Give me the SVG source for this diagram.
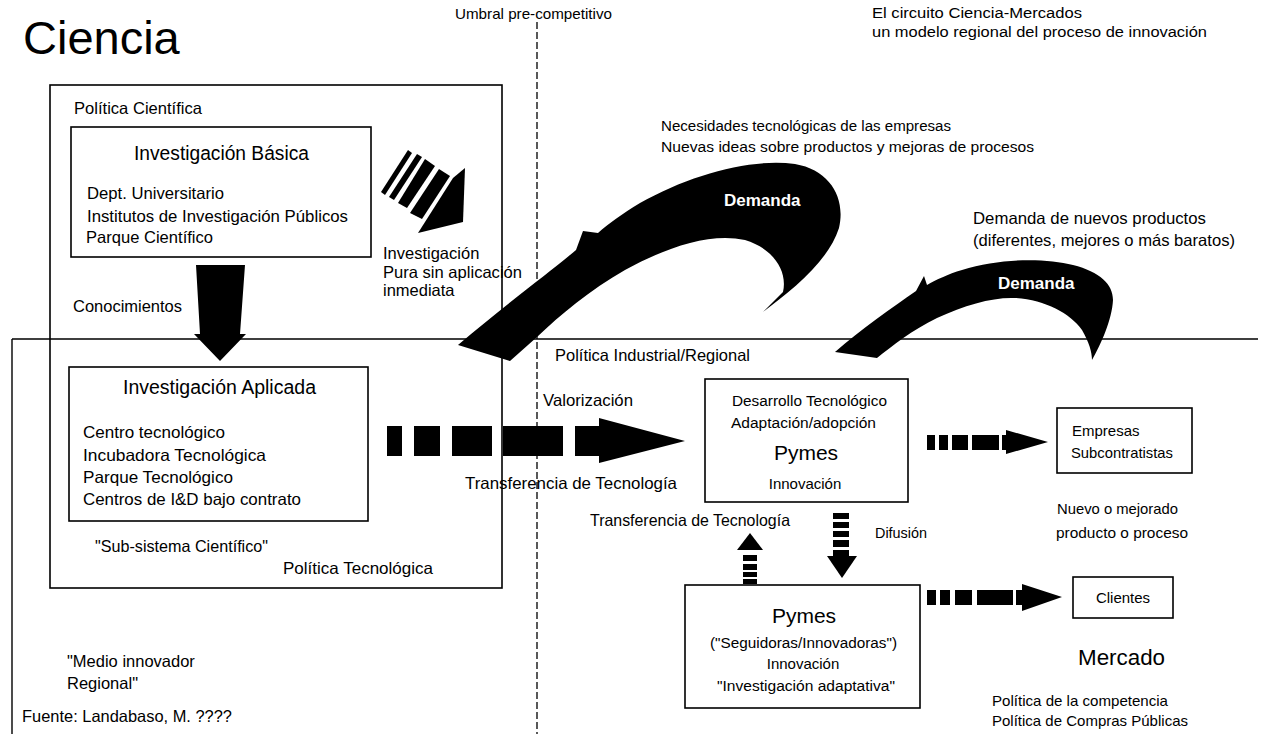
<svg xmlns="http://www.w3.org/2000/svg" width="1261" height="734" viewBox="0 0 1261 734">
<style>
text{font-family:"Liberation Sans",Arial,Helvetica,sans-serif;fill:#000}
.a{font-size:16.5px}
.b{font-size:15.5px}
.c{font-size:15px}
.h{font-size:19.5px}
.p{font-size:21px}
.m{text-anchor:middle}
.w{fill:#fff;font-size:17px;font-weight:bold}
.box{fill:none;stroke:#000;stroke-width:1.6}
.ln{fill:none;stroke:#000;stroke-width:1.4}
.dash{fill:none;stroke:#000;stroke-width:1.3;stroke-dasharray:7 3}
.blk{fill:#000;stroke:none}
</style>
<rect width="1261" height="734" fill="#fff"/>

<g id="frames">
  <rect class="box" x="50" y="85" width="452" height="503"/>
  <path class="ln" d="M12,339 L1258,339 M12,339 L12,734"/>
  <path class="dash" d="M537,22 L537,734"/>
</g>

<g id="labels">
  <text x="23" y="54" style="font-size:47px">Ciencia</text>
  <text class="c" x="455" y="18.5" textLength="157" lengthAdjust="spacingAndGlyphs">Umbral pre-competitivo</text>
  <text class="b" x="872" y="17.5" textLength="210" lengthAdjust="spacingAndGlyphs">El circuito Ciencia-Mercados</text>
  <text class="b" x="872" y="36.5" textLength="335" lengthAdjust="spacingAndGlyphs">un modelo regional del proceso de innovación</text>
  <text class="a" x="74" y="114" textLength="128" lengthAdjust="spacingAndGlyphs">Política Científica</text>
  <text class="a" x="73" y="312" textLength="109" lengthAdjust="spacingAndGlyphs">Conocimientos</text>
  <text class="a" x="383" y="259">Investigación</text>
  <text class="a" x="383" y="278" textLength="139" lengthAdjust="spacingAndGlyphs">Pura sin aplicación</text>
  <text class="a" x="383" y="296">inmediata</text>
  <text class="b" x="661" y="131" textLength="290" lengthAdjust="spacingAndGlyphs">Necesidades tecnológicas de las empresas</text>
  <text class="b" x="661" y="152" textLength="373" lengthAdjust="spacingAndGlyphs">Nuevas ideas sobre productos y mejoras de procesos</text>
  <text class="a" x="973" y="224" textLength="233" lengthAdjust="spacingAndGlyphs">Demanda de nuevos productos</text>
  <text class="a" x="973" y="246" textLength="262" lengthAdjust="spacingAndGlyphs">(diferentes, mejores o más baratos)</text>
  <text class="a" x="555" y="361" textLength="195" lengthAdjust="spacingAndGlyphs">Política Industrial/Regional</text>
  <text class="a" x="95" y="552" textLength="173" lengthAdjust="spacingAndGlyphs">"Sub-sistema Científico"</text>
  <text class="a" x="283" y="574" textLength="150" lengthAdjust="spacingAndGlyphs">Política Tecnológica</text>
  <text class="a" x="543" y="406" textLength="90" lengthAdjust="spacingAndGlyphs">Valorización</text>
  <text class="a" x="465" y="489" textLength="212" lengthAdjust="spacingAndGlyphs">Transferencia de Tecnología</text>
  <text class="a" x="590" y="526" textLength="200" lengthAdjust="spacingAndGlyphs">Transferencia de Tecnología</text>
  <text class="c" x="875" y="537.5" textLength="52" lengthAdjust="spacingAndGlyphs">Difusión</text>
  <text class="c" x="1057" y="513.5" textLength="121" lengthAdjust="spacingAndGlyphs">Nuevo o mejorado</text>
  <text class="b" x="1056" y="537.5" textLength="132" lengthAdjust="spacingAndGlyphs">producto o proceso</text>
  <text x="1078" y="665" style="font-size:22px" textLength="87" lengthAdjust="spacingAndGlyphs">Mercado</text>
  <text class="c" x="992" y="705.5" textLength="176" lengthAdjust="spacingAndGlyphs">Política de la competencia</text>
  <text class="c" x="992" y="725.5" textLength="196" lengthAdjust="spacingAndGlyphs">Política de Compras Públicas</text>
  <text class="a" x="67" y="667">"Medio innovador</text>
  <text class="a" x="67" y="689">Regional"</text>
  <text class="a" x="22" y="722" textLength="210" lengthAdjust="spacingAndGlyphs">Fuente: Landabaso, M. ????</text>
</g>

<g id="node-basica">
  <rect class="box" x="71" y="127" width="300" height="130"/>
  <text class="h" x="134" y="160" textLength="175" lengthAdjust="spacingAndGlyphs">Investigación Básica</text>
  <text class="a" x="87" y="199" textLength="137" lengthAdjust="spacingAndGlyphs">Dept. Universitario</text>
  <text class="a" x="87" y="222" textLength="261" lengthAdjust="spacingAndGlyphs">Institutos de Investigación Públicos</text>
  <text class="a" x="86" y="243" textLength="127" lengthAdjust="spacingAndGlyphs">Parque Científico</text>
</g>

<g id="node-aplicada">
  <rect class="box" x="69" y="367" width="299" height="154"/>
  <text class="h" x="123" y="394" textLength="193" lengthAdjust="spacingAndGlyphs">Investigación Aplicada</text>
  <text class="a" x="83" y="438" textLength="142" lengthAdjust="spacingAndGlyphs">Centro tecnológico</text>
  <text class="a" x="83" y="461" textLength="183" lengthAdjust="spacingAndGlyphs">Incubadora Tecnológica</text>
  <text class="a" x="83" y="483" textLength="150" lengthAdjust="spacingAndGlyphs">Parque Tecnológico</text>
  <text class="a" x="83" y="505" textLength="218" lengthAdjust="spacingAndGlyphs">Centros de I&amp;D bajo contrato</text>
</g>

<g id="node-pymes1">
  <rect class="box" x="705" y="379" width="203" height="123"/>
  <text class="b" x="732" y="405.5" textLength="155" lengthAdjust="spacingAndGlyphs">Desarrollo Tecnológico</text>
  <text class="b" x="731" y="427.5" textLength="145" lengthAdjust="spacingAndGlyphs">Adaptación/adopción</text>
  <text class="p m" x="806" y="459.5">Pymes</text>
  <text class="c m" x="805" y="488.5">Innovación</text>
</g>

<g id="node-pymes2">
  <rect class="box" x="685" y="585" width="235" height="123"/>
  <text class="p m" x="804" y="622.5">Pymes</text>
  <text class="b" x="710" y="647.5" textLength="187" lengthAdjust="spacingAndGlyphs">("Seguidoras/Innovadoras")</text>
  <text class="c m" x="803" y="668.5">Innovación</text>
  <text class="b" x="717" y="690.5" textLength="178" lengthAdjust="spacingAndGlyphs">"Investigación adaptativa"</text>
</g>

<g id="node-empresas">
  <rect class="box" x="1057" y="408" width="135" height="65"/>
  <text class="c" x="1072" y="435.5">Empresas</text>
  <text class="c" x="1071" y="457.5" textLength="102" lengthAdjust="spacingAndGlyphs">Subcontratistas</text>
</g>

<g id="node-clientes">
  <rect class="box" x="1073" y="577" width="100" height="41"/>
  <text class="c m" x="1123" y="602.5">Clientes</text>
</g>

<g id="connectors">
  <!-- Conocimientos arrow -->
  <polygon class="blk" points="196,265 245,265 240,334 246,334 220,361 194,334 200,334"/>
  <!-- striped diagonal arrow -->
  <polygon class="blk" points="408,150 412,153 385,195 381,192"/>
  <polygon class="blk" points="417,154 422,157 394,200 389,197"/>
  <polygon class="blk" points="425,159 435,166 407,208 398,203"/>
  <polygon class="blk" points="439,169 450,176 422,219 410,213"/>
  <polygon class="blk" points="453,178 465,168 463,222 418,233 425,222"/>
  <!-- big Demanda arrow -->
  <path class="blk" d="M458,345 L510,361 L537,337 C560,315 590,290 625,270 C665,248 710,232 745,240 C772,248 788,270 783,292 L763,312 C792,290 828,262 839,228 C846,198 830,170 795,164 C750,158 690,175 640,203 C622,214 608,224 598,233 L583,231 L576,250 C550,272 505,305 458,345 Z"/>
  <text class="w" x="724" y="206">Demanda</text>
  <!-- second Demanda arrow -->
  <path class="blk" d="M835,352 L877,358 C892,346 912,330 937,318 C965,305 993,297 1015,298 C1045,300 1070,313 1082,330 C1089,342 1092,352 1092,360 C1101,344 1112,320 1113,300 C1113,284 1100,272 1073,265 C1045,258 1000,258 962,270 C948,274 936,280 927,285 L924,276 L916,291 C893,307 860,330 835,352 Z"/>
  <text class="w" x="998" y="289">Demanda</text>
  <!-- Transferencia de Tecnologia horizontal arrow -->
  <rect class="blk" x="387" y="426" width="15" height="30"/>
  <rect class="blk" x="414" y="426" width="26" height="30"/>
  <rect class="blk" x="452" y="426" width="40" height="30"/>
  <rect class="blk" x="503" y="426" width="60" height="30"/>
  <polygon class="blk" points="575,426 599,426 599,418 685,441 599,463 599,456 575,456"/>
  <!-- arrow to Empresas -->
  <rect class="blk" x="927" y="435" width="8" height="15"/>
  <rect class="blk" x="939" y="435" width="9" height="15"/>
  <rect class="blk" x="952" y="435" width="16" height="15"/>
  <rect class="blk" x="972" y="435" width="27" height="15"/>
  <polygon class="blk" points="1002,435 1006,435 1006,430 1048,442 1006,454 1006,450 1002,450"/>
  <!-- arrow to Clientes -->
  <rect class="blk" x="927" y="590" width="9" height="15"/>
  <rect class="blk" x="940" y="590" width="10" height="15"/>
  <rect class="blk" x="955" y="590" width="17" height="15"/>
  <rect class="blk" x="977" y="590" width="36" height="15"/>
  <polygon class="blk" points="1016,590 1022,590 1022,584 1062,597 1022,611 1022,605 1016,605"/>
  <!-- Difusion down arrow -->
  <rect class="blk" x="833" y="513" width="16" height="6"/>
  <rect class="blk" x="833" y="522" width="16" height="6"/>
  <rect class="blk" x="833" y="531" width="16" height="6"/>
  <rect class="blk" x="833" y="540" width="16" height="7"/>
  <rect class="blk" x="833" y="550" width="16" height="6"/>
  <polygon class="blk" points="827,556 857,556 842,578"/>
  <!-- Transferencia up arrow -->
  <polygon class="blk" points="737,550 763,550 750,533"/>
  <rect class="blk" x="743" y="555" width="14" height="6"/>
  <rect class="blk" x="743" y="564" width="14" height="6"/>
  <rect class="blk" x="743" y="572" width="14" height="5"/>
  <rect class="blk" x="743" y="579" width="14" height="5"/>
</g>
</svg>
